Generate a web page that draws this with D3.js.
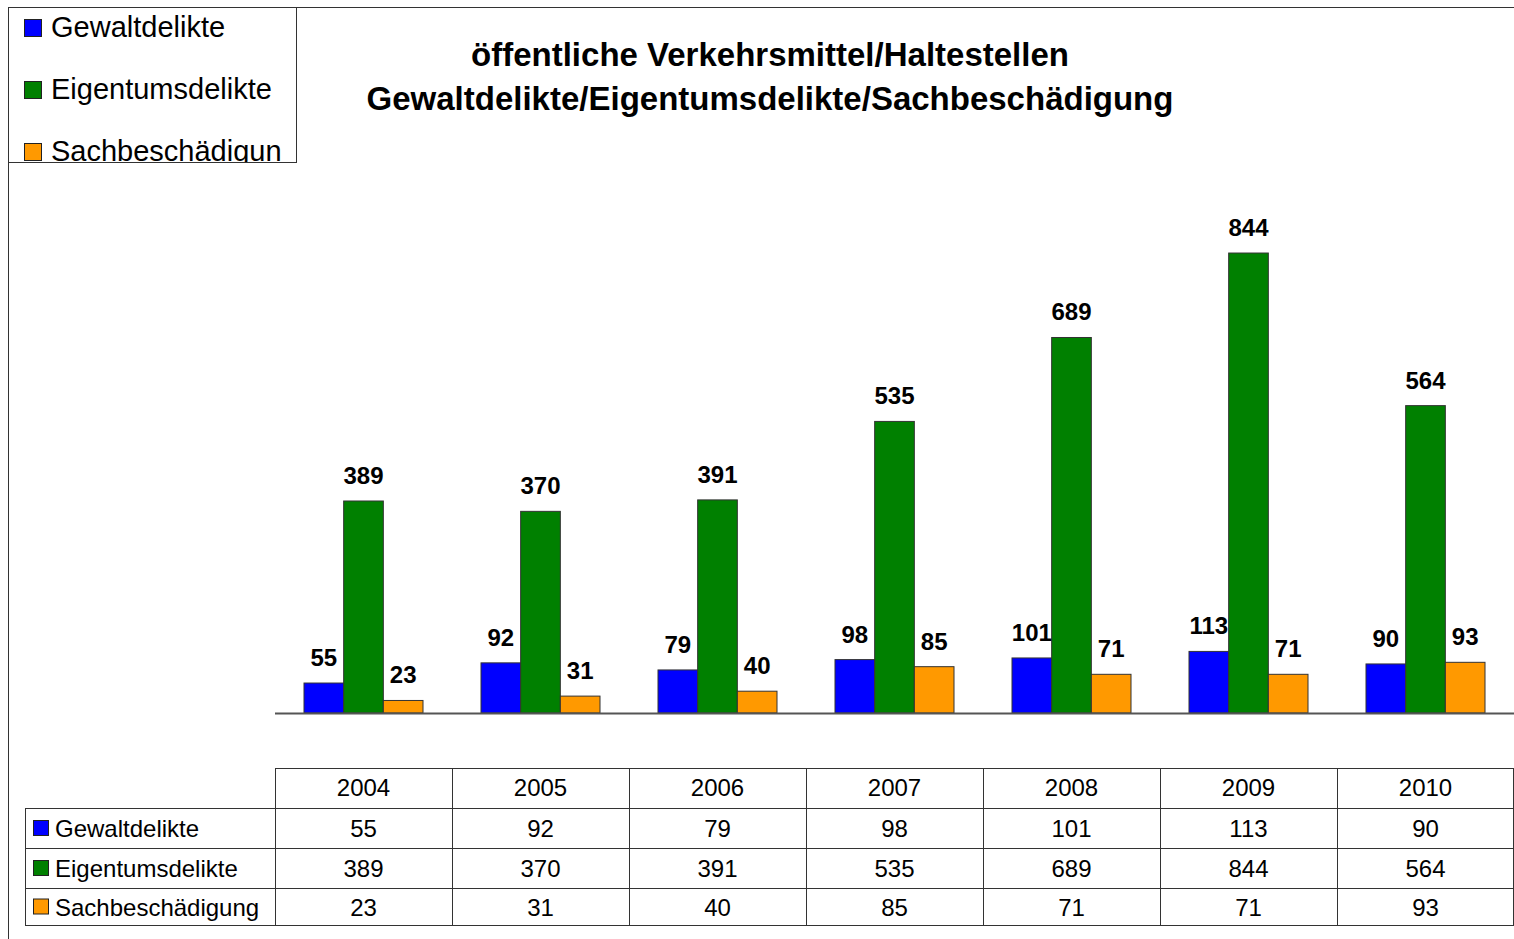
<!DOCTYPE html>
<html>
<head>
<meta charset="utf-8">
<script src="https://cdn.jsdelivr.net/npm/d3@7"></script>
<style>
  body { margin: 0; background: #fff; }
  svg { font-family: "Liberation Sans", Arial, sans-serif; }
</style>
</head>
<body>
<div id="chart"></div>
<script>
const years = ["2004", "2005", "2006", "2007", "2008", "2009", "2010"];
const seriesNames = ["Gewaltdelikte", "Eigentumsdelikte", "Sachbeschädigung"];
const gewalt = [55, 92, 79, 98, 101, 113, 90];
const eigentum = [389, 370, 391, 535, 689, 844, 564];
const sach = [23, 31, 40, 85, 71, 71, 93];
const colors = ["#0000ff", "#008000", "#ff9900"];
const titleLines = ["öffentliche Verkehrsmittel/Haltestellen", "Gewaltdelikte/Eigentumsdelikte/Sachbeschädigung"];

const values = [gewalt, eigentum, sach];

const W = 1514, H = 939;
const svg = d3.select("#chart").append("svg")
    .attr("width", W)
    .attr("height", H);

// outer frame lines (top + left)
svg.append("path")
    .attr("d", "M8.5,939 L8.5,7.5 L1514,7.5")
    .attr("fill", "none")
    .attr("stroke", "#333");

// scales
let xScale = d3.scaleBand()
    .domain(years)
    .range([275, 1514]);

let xInner = d3.scaleBand()
    .domain(seriesNames)
    .range([29, 148]);

let yScale = d3.scaleLinear()
    .domain([0, 1000])
    .range([713, 168]);

// title
svg.append("g")
    .selectAll("text")
    .data(titleLines)
    .join("text")
    .attr("x", 770)
    .attr("y", (d, i) => 66 + i * 44)
    .attr("text-anchor", "middle")
    .style("font-size", "33px")
    .style("font-weight", "bold")
    .text(d => d);

// bars
let groups = svg.append("g")
    .selectAll("g")
    .data(years)
    .join("g")
    .attr("transform", d => "translate(" + xScale(d) + ",0)");

groups.selectAll("rect")
    .data((d, i) => seriesNames.map((s, j) => ({ s: s, v: values[j][i], c: colors[j] })))
    .join("rect")
    .attr("x", d => xInner(d.s))
    .attr("y", d => yScale(d.v))
    .attr("width", xInner.bandwidth())
    .attr("height", d => yScale(0) - yScale(d.v))
    .attr("fill", d => d.c)
    .attr("stroke", "#333")
    .attr("stroke-width", 1);

groups.selectAll("text")
    .data((d, i) => seriesNames.map((s, j) => ({ s: s, v: values[j][i] })))
    .join("text")
    .attr("x", d => xInner(d.s) + xInner.bandwidth() / 2)
    .attr("y", d => yScale(d.v) - 17)
    .attr("text-anchor", "middle")
    .style("font-size", "24px")
    .style("font-weight", "bold")
    .text(d => d.v);

// baseline
svg.append("line")
    .attr("x1", 275).attr("x2", 1514)
    .attr("y1", yScale(0) + 0.5).attr("y2", yScale(0) + 0.5)
    .attr("stroke", "#555")
    .attr("stroke-width", 2);

// legend box (clipped)
svg.append("clipPath")
    .attr("id", "legclip")
    .append("rect")
    .attr("x", 8).attr("y", 8)
    .attr("width", 289).attr("height", 154);

let legend = svg.append("g").attr("clip-path", "url(#legclip)");
legend.selectAll("rect")
    .data(seriesNames)
    .join("rect")
    .attr("x", 24.5)
    .attr("y", (d, i) => 19.5 + i * 62)
    .attr("width", 17).attr("height", 17)
    .attr("fill", (d, i) => colors[i])
    .attr("stroke", "#222");
legend.selectAll("text")
    .data(seriesNames)
    .join("text")
    .attr("x", 51)
    .attr("y", (d, i) => 37 + i * 62)
    .style("font-size", "29px")
    .text(d => d)
    .each(function () {
        // drop whole characters that don't fit in the box, like the original
        let t = d3.select(this);
        let s = t.text();
        while (this.getComputedTextLength() > 240 && s.length > 1) {
            s = s.slice(0, -1);
            t.text(s);
        }
    });
svg.append("rect")
    .attr("x", 8.5).attr("y", 7.5)
    .attr("width", 288).attr("height", 155)
    .attr("fill", "none")
    .attr("stroke", "#333");

// data table
const rowTop = 768, rowH = 40;
let table = svg.append("g");

// header row
table.append("rect")
    .attr("x", 275.5).attr("y", rowTop + 0.5)
    .attr("width", 1238).attr("height", rowH)
    .attr("fill", "none").attr("stroke", "#333");
table.selectAll(".yr")
    .data(years)
    .join("text")
    .attr("class", "yr")
    .attr("x", d => xScale(d) + xScale.bandwidth() / 2)
    .attr("y", rowTop + 28)
    .attr("text-anchor", "middle")
    .style("font-size", "24px")
    .text(d => d);

// body rows
const bodyTop = rowTop + rowH;
const bodyH = [40, 40, 37];
let yPos = [bodyTop, bodyTop + 40, bodyTop + 80];
table.append("rect")
    .attr("x", 25.5).attr("y", bodyTop + 0.5)
    .attr("width", 1488).attr("height", 117)
    .attr("fill", "none").attr("stroke", "#333");
yPos.slice(1).forEach(y => {
    table.append("line")
        .attr("x1", 25).attr("x2", 1514)
        .attr("y1", y + 0.5).attr("y2", y + 0.5)
        .attr("stroke", "#333");
});
// vertical lines
years.forEach(yr => {
    table.append("line")
        .attr("x1", Math.round(xScale(yr)) + 0.5).attr("x2", Math.round(xScale(yr)) + 0.5)
        .attr("y1", rowTop).attr("y2", bodyTop + 117)
        .attr("stroke", "#333");
});

seriesNames.forEach((s, j) => {
    let cy = yPos[j] + bodyH[j] / 2;
    table.append("rect")
        .attr("x", 33.5).attr("y", cy - 7.5)
        .attr("width", 15).attr("height", 15)
        .attr("fill", colors[j]).attr("stroke", "#222");
    table.append("text")
        .attr("x", 55)
        .attr("y", cy + 9)
        .style("font-size", "24px")
        .text(s);
    table.selectAll(".v" + j)
        .data(values[j])
        .join("text")
        .attr("class", "v" + j)
        .attr("x", (d, i) => xScale(years[i]) + xScale.bandwidth() / 2)
        .attr("y", cy + 9)
        .attr("text-anchor", "middle")
        .style("font-size", "24px")
        .text(d => d);
});
</script>
</body>
</html>
